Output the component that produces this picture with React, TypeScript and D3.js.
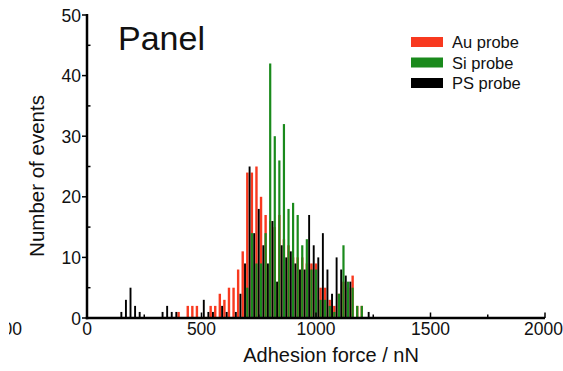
import React from "react";
import * as d3 from "d3";

// Histogram bin centres (nN). Au / Si share bins; PS bins sit half a bin later.
const auSiCenters = d3.range(400, 1221, 20);
const psCenters = d3.range(150, 1251, 20);

const auCounts = [
  1, 0, 2, 2, 2, 0, 0, 2, 2, 4,
  3, 5, 5, 8, 11, 24, 24, 25, 20, 17,
  16, 15, 17, 13, 12, 10, 10, 10, 9, 9,
  9, 5, 5, 3, 2, 4, 6, 5, 7, 2,
  2, 0,
];

const siCounts = [
  0, 0, 0, 0, 0, 0, 0, 0, 0, 0,
  0, 0, 0, 0, 0, 5, 14, 9, 9, 14,
  42, 30, 26, 32, 18, 19, 17, 12, 13, 8,
  8, 3, 3, 2, 1, 4, 12, 6, 5, 2,
  2, 0,
];

const psCounts = [
  1, 3, 5, 2, 1, 0, 0, 0, 0, 1,
  2, 1, 1, 0, 0, 0, 0, 0, 3, 1,
  1, 0, 2, 1, 0, 1, 4, 9, 25, 14,
  18, 12, 9, 16, 6, 12, 10, 11, 9, 8,
  8, 17, 12, 10, 14, 8, 4, 10, 8, 7,
  6, 0, 0, 0, 1, 0,
];

const xTicks = [0, 500, 1000, 1500, 2000];
const yTicks = [0, 10, 20, 30, 40, 50];

const seriesNames = ["Au probe", "Si probe", "PS probe"];
const seriesColors = ["#f8391f", "#1a8a1c", "#000000"];

const W = 563;
const H = 371;
const FONT = "'Liberation Sans', Arial, Helvetica, sans-serif";

export default function App() {
  const x = d3.scaleLinear().domain([0, 2000]).range([87, 545]);
  const y = d3.scaleLinear().domain([0, 50]).range([318, 15]);

  const xMinor = d3.range(250, 2000, 500);
  const yMinor = d3.range(5, 50, 10);

  const series = [
    { centers: auSiCenters, counts: auCounts, color: seriesColors[0], w: 2.4 },
    { centers: auSiCenters, counts: siCounts, color: seriesColors[1], w: 2.2 },
    { centers: psCenters, counts: psCounts, color: seriesColors[2], w: 1.9 },
  ];

  return (
    <svg
      width={W}
      height={H}
      style={{ position: "absolute", left: 0, top: 0, background: "#fff" }}
      fontFamily={FONT}
    >
      <defs>
        <clipPath id="edge-clip">
          <rect x={9} y={0} width={W - 9} height={H} />
        </clipPath>
      </defs>
      <rect x={0} y={0} width={W} height={H} fill="#fff" />

      {/* bars */}
      {series.map((s, si) => (
        <g key={si} fill={s.color}>
          {s.counts.map((c, i) =>
            c > 0 ? (
              <rect
                key={i}
                x={x(s.centers[i]) - s.w / 2}
                y={y(c)}
                width={s.w}
                height={y(0) - y(c)}
              />
            ) : null
          )}
        </g>
      ))}

      {/* axes */}
      <g stroke="#000" strokeWidth={2.5} fill="none">
        <line x1={x(0)} x2={x(0)} y1={y(50) - 1} y2={y(0) + 1.25} />
        <line x1={x(0) - 1.25} x2={x(2000)} y1={y(0)} y2={y(0)} />
      </g>
      <g stroke="#000" strokeWidth={1.5}>
        {yTicks.map((t) => (
          <line key={"yt" + t} x1={x(0) - 5} x2={x(0)} y1={y(t)} y2={y(t)} />
        ))}
        {yMinor.map((t) => (
          <line key={"ym" + t} x1={x(0)} x2={x(0) + 3.5} y1={y(t)} y2={y(t)} />
        ))}
        {xTicks.map((t) => (
          <line key={"xt" + t} x1={x(t)} x2={x(t)} y1={y(0)} y2={y(0) - 5.5} />
        ))}
        {xMinor.map((t) => (
          <line key={"xm" + t} x1={x(t)} x2={x(t)} y1={y(0)} y2={y(0) - 3.5} />
        ))}
      </g>

      {/* tick labels */}
      <g fontSize={17.5} fill="#111">
        {yTicks.map((t) => (
          <text key={"yl" + t} x={x(0) - 6} y={y(t) + 6.5} textAnchor="end">
            {t}
          </text>
        ))}
        {xTicks.map((t) => (
          <text
            key={"xl" + t}
            x={t === 2000 ? x(t) - 1.5 : x(t)}
            y={y(0) + 16.5}
            textAnchor="middle"
          >
            {t}
          </text>
        ))}
        <text x={22} y={y(0) + 16.5} textAnchor="end" clipPath="url(#edge-clip)">
          1000
        </text>
      </g>

      {/* axis titles */}
      <text
        x={(x(0) + x(2000)) / 2 + 15}
        y={362}
        fontSize={20}
        textAnchor="middle"
        fill="#111"
      >
        Adhesion force / nN
      </text>
      <text
        transform={`translate(44, 176) rotate(-90)`}
        fontSize={20.5}
        textAnchor="middle"
        fill="#111"
      >
        Number of events
      </text>

      {/* panel label */}
      <text x={118} y={50} fontSize={34} fill="#111">
        Panel
      </text>

      {/* legend */}
      {seriesNames.map((name, i) => {
        const cy = 42 + i * 20.5;
        return (
          <g key={name}>
            <rect x={411} y={cy - 5} width={32} height={10} fill={seriesColors[i]} />
            <text x={452} y={cy + 6} fontSize={16.5} fill="#111">
              {name}
            </text>
          </g>
        );
      })}
    </svg>
  );
}
